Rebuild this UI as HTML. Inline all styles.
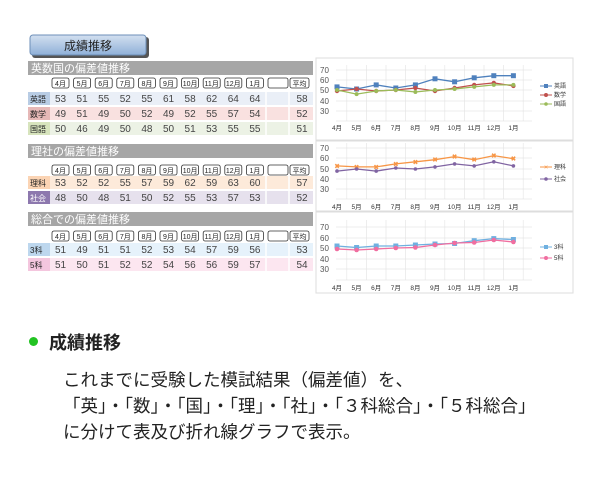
<!DOCTYPE html>
<html><head><meta charset="utf-8"><style>
html,body{margin:0;padding:0;background:#fff;}
body{width:600px;height:500px;position:relative;overflow:hidden;font-family:"Liberation Sans","Noto Sans CJK JP",sans-serif;}
.t{position:absolute;color:#222;white-space:nowrap;}
</style></head><body>
<svg width="600" height="300" style="position:absolute;left:0;top:0" font-family="Liberation Sans, Noto Sans CJK JP, sans-serif">
<defs><linearGradient id="bg" x1="0" y1="0" x2="0" y2="1"><stop offset="0" stop-color="#d3e0f0"/><stop offset="1" stop-color="#8fb0d8"/></linearGradient></defs>
<rect x="32" y="37" width="117" height="21" rx="3" fill="#555"/>
<rect x="30" y="35" width="116" height="20" rx="3" fill="url(#bg)" stroke="#6d8fb8"/>
<text x="88" y="50" font-size="12" text-anchor="middle" fill="#222">成績推移</text>
<rect x="28" y="61" width="285" height="14" fill="#a6a6a6"/><text x="31" y="72" font-size="11" fill="#fff">英数国の偏差値推移</text>
<rect x="28" y="144" width="285" height="14" fill="#a6a6a6"/><text x="31" y="155" font-size="11" fill="#fff">理社の偏差値推移</text>
<rect x="28" y="212" width="285" height="14" fill="#a6a6a6"/><text x="31" y="223" font-size="11" fill="#fff">総合での偏差値推移</text>
<g font-size="7" text-anchor="middle" fill="#222" stroke-width="0.8">
<g id="m1" transform="translate(0,78)">
<g fill="#fff" stroke="#333"><rect x="52" y="0" width="17" height="10" rx="2"/><rect x="73.6" y="0" width="17" height="10" rx="2"/><rect x="95.2" y="0" width="17" height="10" rx="2"/><rect x="116.8" y="0" width="17" height="10" rx="2"/><rect x="138.4" y="0" width="17" height="10" rx="2"/><rect x="160" y="0" width="17" height="10" rx="2"/><rect x="181.6" y="0" width="17" height="10" rx="2"/><rect x="203.2" y="0" width="17" height="10" rx="2"/><rect x="224.8" y="0" width="17" height="10" rx="2"/><rect x="246.4" y="0" width="17" height="10" rx="2"/><rect x="268" y="0" width="20" height="10" rx="2"/><rect x="290" y="0" width="19" height="10" rx="2"/></g>
<text x="60.5" y="8">4月</text><text x="82.1" y="8">5月</text><text x="103.7" y="8">6月</text><text x="125.3" y="8">7月</text><text x="146.9" y="8">8月</text><text x="168.5" y="8">9月</text><text x="190.1" y="8">10月</text><text x="211.7" y="8">11月</text><text x="233.3" y="8">12月</text><text x="254.9" y="8">1月</text><text x="299.5" y="8">平均</text>
</g>
<use href="#m1" transform="translate(0,87)"/>
<use href="#m1" transform="translate(0,153)"/>
</g>
<g>
<rect x="28" y="92" width="285" height="13" fill="#eaeff7"/><rect x="28" y="92" width="22" height="13" fill="#b8cce4"/>
<rect x="28" y="107" width="285" height="13" fill="#f9e1e0"/><rect x="28" y="107" width="22" height="13" fill="#e6b8b7"/>
<rect x="28" y="122" width="285" height="13" fill="#ecf2e5"/><rect x="28" y="122" width="22" height="13" fill="#d7e4bd"/>
<rect x="28" y="176" width="285" height="13" fill="#fdeada"/><rect x="28" y="176" width="22" height="13" fill="#fbd4b4"/>
<rect x="28" y="191" width="285" height="13" fill="#e6e1ed"/><rect x="28" y="191" width="22" height="13" fill="#8d78ae"/>
<rect x="28" y="243" width="285" height="13" fill="#e6f2fb"/><rect x="28" y="243" width="22" height="13" fill="#bdd7ee"/>
<rect x="28" y="258" width="285" height="13" fill="#fce6f0"/><rect x="28" y="258" width="22" height="13" fill="#f4c6de"/>
<g stroke="#fff" stroke-width="1.5"><line x1="266" y1="91" x2="266" y2="136"/><line x1="289" y1="91" x2="289" y2="136"/><line x1="266" y1="175" x2="266" y2="205"/><line x1="289" y1="175" x2="289" y2="205"/><line x1="266" y1="242" x2="266" y2="272"/><line x1="289" y1="242" x2="289" y2="272"/></g>
</g>
<g font-size="8" fill="#222"><text x="30" y="102">英語</text><text x="30" y="117">数学</text><text x="30" y="132">国語</text><text x="30" y="186">理科</text><text x="30" y="201" fill="#fff">社会</text><text x="30" y="253">3科</text><text x="30" y="268">5科</text></g>
<g font-size="10" fill="#444" text-anchor="middle">
<g transform="translate(0,102)"><text x="60.5">53</text><text x="82.1">51</text><text x="103.7">55</text><text x="125.3">52</text><text x="146.9">55</text><text x="168.5">61</text><text x="190.1">58</text><text x="211.7">62</text><text x="233.3">64</text><text x="254.9">64</text><text x="302">58</text></g>
<g transform="translate(0,117)"><text x="60.5">49</text><text x="82.1">51</text><text x="103.7">49</text><text x="125.3">50</text><text x="146.9">52</text><text x="168.5">49</text><text x="190.1">52</text><text x="211.7">55</text><text x="233.3">57</text><text x="254.9">54</text><text x="302">52</text></g>
<g transform="translate(0,132)"><text x="60.5">50</text><text x="82.1">46</text><text x="103.7">49</text><text x="125.3">50</text><text x="146.9">48</text><text x="168.5">50</text><text x="190.1">51</text><text x="211.7">53</text><text x="233.3">55</text><text x="254.9">55</text><text x="302">51</text></g>
<g transform="translate(0,186)"><text x="60.5">53</text><text x="82.1">52</text><text x="103.7">52</text><text x="125.3">55</text><text x="146.9">57</text><text x="168.5">59</text><text x="190.1">62</text><text x="211.7">59</text><text x="233.3">63</text><text x="254.9">60</text><text x="302">57</text></g>
<g transform="translate(0,201)"><text x="60.5">48</text><text x="82.1">50</text><text x="103.7">48</text><text x="125.3">51</text><text x="146.9">50</text><text x="168.5">52</text><text x="190.1">55</text><text x="211.7">53</text><text x="233.3">57</text><text x="254.9">53</text><text x="302">52</text></g>
<g transform="translate(0,253)"><text x="60.5">51</text><text x="82.1">49</text><text x="103.7">51</text><text x="125.3">51</text><text x="146.9">52</text><text x="168.5">53</text><text x="190.1">54</text><text x="211.7">57</text><text x="233.3">59</text><text x="254.9">56</text><text x="302">53</text></g>
<g transform="translate(0,268)"><text x="60.5">51</text><text x="82.1">50</text><text x="103.7">51</text><text x="125.3">52</text><text x="146.9">52</text><text x="168.5">54</text><text x="190.1">56</text><text x="211.7">56</text><text x="233.3">59</text><text x="254.9">57</text><text x="302">54</text></g>
</g>
<g id="ch1">
<rect x="316" y="58" width="257" height="82" fill="#fff" stroke="#ddd"/>
<g stroke="#e6e6e6" stroke-width="0.7">
<line x1="336" y1="70" x2="532" y2="70"/><line x1="336" y1="80" x2="532" y2="80"/><line x1="336" y1="90" x2="532" y2="90"/><line x1="336" y1="101" x2="532" y2="101"/><line x1="336" y1="111" x2="532" y2="111"/><line x1="336" y1="121" x2="532" y2="121"/>
<line x1="346.8" y1="65" x2="346.8" y2="121"/><line x1="366.4" y1="65" x2="366.4" y2="121"/><line x1="386" y1="65" x2="386" y2="121"/><line x1="405.6" y1="65" x2="405.6" y2="121"/><line x1="425.2" y1="65" x2="425.2" y2="121"/><line x1="444.8" y1="65" x2="444.8" y2="121"/><line x1="464.4" y1="65" x2="464.4" y2="121"/><line x1="484" y1="65" x2="484" y2="121"/><line x1="503.6" y1="65" x2="503.6" y2="121"/><line x1="523.2" y1="65" x2="523.2" y2="121"/>
</g>
<g font-size="8" fill="#555"><text x="320" y="73">70</text><text x="320" y="83">60</text><text x="320" y="93">50</text><text x="320" y="104">40</text><text x="320" y="114">30</text></g>
<g font-size="6.5" fill="#333" text-anchor="middle"><text x="337" y="130">4月</text><text x="356.6" y="130">5月</text><text x="376.2" y="130">6月</text><text x="395.8" y="130">7月</text><text x="415.4" y="130">8月</text><text x="435" y="130">9月</text><text x="454.6" y="130">10月</text><text x="474.2" y="130">11月</text><text x="493.8" y="130">12月</text><text x="513.4" y="130">1月</text></g>
<polyline fill="none" stroke="#4f81bd" stroke-width="1.3" points="337,86.9 356.6,89 376.2,84.9 395.8,88 415.4,84.9 435,78.8 454.6,81.8 474.2,77.8 493.8,75.7 513.4,75.7"/>
<g fill="#4f81bd"><rect x="334.5" y="84.4" width="5" height="5"/><rect x="354.1" y="86.5" width="5" height="5"/><rect x="373.7" y="82.4" width="5" height="5"/><rect x="393.3" y="85.5" width="5" height="5"/><rect x="412.9" y="82.4" width="5" height="5"/><rect x="432.5" y="76.3" width="5" height="5"/><rect x="452.1" y="79.3" width="5" height="5"/><rect x="471.7" y="75.3" width="5" height="5"/><rect x="491.3" y="73.2" width="5" height="5"/><rect x="510.9" y="73.2" width="5" height="5"/></g>
<polyline fill="none" stroke="#c0504d" stroke-width="1.3" points="337,91 356.6,89 376.2,91 395.8,90 415.4,88 435,91 454.6,88 474.2,84.9 493.8,82.9 513.4,85.9"/>
<g fill="#c0504d"><circle cx="337" cy="91" r="2.2"/><circle cx="356.6" cy="89" r="2.2"/><circle cx="376.2" cy="91" r="2.2"/><circle cx="395.8" cy="90" r="2.2"/><circle cx="415.4" cy="88" r="2.2"/><circle cx="435" cy="91" r="2.2"/><circle cx="454.6" cy="88" r="2.2"/><circle cx="474.2" cy="84.9" r="2.2"/><circle cx="493.8" cy="82.9" r="2.2"/><circle cx="513.4" cy="85.9" r="2.2"/></g>
<polyline fill="none" stroke="#9bbb59" stroke-width="1.3" points="337,90 356.6,94.1 376.2,91 395.8,90 415.4,92 435,90 454.6,89 474.2,86.9 493.8,84.9 513.4,84.9"/>
<g fill="#9bbb59"><circle cx="337" cy="90" r="2"/><circle cx="356.6" cy="94.1" r="2"/><circle cx="376.2" cy="91" r="2"/><circle cx="395.8" cy="90" r="2"/><circle cx="415.4" cy="92" r="2"/><circle cx="435" cy="90" r="2"/><circle cx="454.6" cy="89" r="2"/><circle cx="474.2" cy="86.9" r="2"/><circle cx="493.8" cy="84.9" r="2"/><circle cx="513.4" cy="84.9" r="2"/></g>
<g font-size="6" fill="#333"><line x1="540" y1="86" x2="552" y2="86" stroke="#4f81bd"/><rect x="544" y="84" width="4" height="4" fill="#4f81bd"/><text x="554" y="88">英語</text>
<line x1="540" y1="95" x2="552" y2="95" stroke="#c0504d"/><circle cx="546" cy="95" r="2" fill="#c0504d"/><text x="554" y="97">数学</text>
<line x1="540" y1="104" x2="552" y2="104" stroke="#9bbb59"/><circle cx="546" cy="104" r="1.8" fill="#9bbb59"/><text x="554" y="106">国語</text></g>
</g>
<g id="ch2">
<rect x="316" y="141" width="257" height="70" fill="#fff" stroke="#ddd"/>
<g stroke="#e6e6e6" stroke-width="0.7">
<line x1="336" y1="148" x2="532" y2="148"/><line x1="336" y1="158" x2="532" y2="158"/><line x1="336" y1="169" x2="532" y2="169"/><line x1="336" y1="179" x2="532" y2="179"/><line x1="336" y1="189" x2="532" y2="189"/><line x1="336" y1="199" x2="532" y2="199"/>
<line x1="346.8" y1="143" x2="346.8" y2="199"/><line x1="366.4" y1="143" x2="366.4" y2="199"/><line x1="386" y1="143" x2="386" y2="199"/><line x1="405.6" y1="143" x2="405.6" y2="199"/><line x1="425.2" y1="143" x2="425.2" y2="199"/><line x1="444.8" y1="143" x2="444.8" y2="199"/><line x1="464.4" y1="143" x2="464.4" y2="199"/><line x1="484" y1="143" x2="484" y2="199"/><line x1="503.6" y1="143" x2="503.6" y2="199"/><line x1="523.2" y1="143" x2="523.2" y2="199"/>
</g>
<g font-size="8" fill="#555"><text x="320" y="151">70</text><text x="320" y="161">60</text><text x="320" y="172">50</text><text x="320" y="182">40</text><text x="320" y="192">30</text></g>
<g font-size="6.5" fill="#333" text-anchor="middle"><text x="337" y="209">4月</text><text x="356.6" y="209">5月</text><text x="376.2" y="209">6月</text><text x="395.8" y="209">7月</text><text x="415.4" y="209">8月</text><text x="435" y="209">9月</text><text x="454.6" y="209">10月</text><text x="474.2" y="209">11月</text><text x="493.8" y="209">12月</text><text x="513.4" y="209">1月</text></g>
<polyline fill="none" stroke="#f79646" stroke-width="1.3" points="337,165.9 356.6,166.9 376.2,166.9 395.8,163.9 415.4,161.8 435,159.7 454.6,156.6 474.2,159.7 493.8,155.6 513.4,158.7"/>
<g stroke="#f79646" stroke-width="1" font-size="7" fill="#f79646" text-anchor="middle"><text x="337" y="168.4">×</text><text x="356.6" y="169.4">×</text><text x="376.2" y="169.4">×</text><text x="395.8" y="166.4">×</text><text x="415.4" y="164.3">×</text><text x="435" y="162.2">×</text><text x="454.6" y="159.1">×</text><text x="474.2" y="162.2">×</text><text x="493.8" y="158.1">×</text><text x="513.4" y="161.2">×</text></g>
<polyline fill="none" stroke="#8064a2" stroke-width="1.3" points="337,171.1 356.6,169 376.2,171.1 395.8,168 415.4,169 435,166.9 454.6,163.9 474.2,165.9 493.8,161.8 513.4,165.9"/>
<g fill="#8064a2"><circle cx="337" cy="171.1" r="1.8"/><circle cx="356.6" cy="169" r="1.8"/><circle cx="376.2" cy="171.1" r="1.8"/><circle cx="395.8" cy="168" r="1.8"/><circle cx="415.4" cy="169" r="1.8"/><circle cx="435" cy="166.9" r="1.8"/><circle cx="454.6" cy="163.9" r="1.8"/><circle cx="474.2" cy="165.9" r="1.8"/><circle cx="493.8" cy="161.8" r="1.8"/><circle cx="513.4" cy="165.9" r="1.8"/></g>
<g font-size="6" fill="#333"><line x1="540" y1="167" x2="552" y2="167" stroke="#f79646"/><text x="546" y="169.5" font-size="7" fill="#f79646" text-anchor="middle">×</text><text x="554" y="169">理科</text>
<line x1="540" y1="179" x2="552" y2="179" stroke="#8064a2"/><circle cx="546" cy="179" r="1.8" fill="#8064a2"/><text x="554" y="181">社会</text></g>
</g>
<g id="ch3">
<rect x="316" y="212" width="257" height="81" fill="#fff" stroke="#ddd"/>
<g stroke="#e6e6e6" stroke-width="0.7">
<line x1="336" y1="227" x2="532" y2="227"/><line x1="336" y1="238" x2="532" y2="238"/><line x1="336" y1="248" x2="532" y2="248"/><line x1="336" y1="259" x2="532" y2="259"/><line x1="336" y1="269" x2="532" y2="269"/><line x1="336" y1="280" x2="532" y2="280"/>
<line x1="346.8" y1="220" x2="346.8" y2="280"/><line x1="366.4" y1="220" x2="366.4" y2="280"/><line x1="386" y1="220" x2="386" y2="280"/><line x1="405.6" y1="220" x2="405.6" y2="280"/><line x1="425.2" y1="220" x2="425.2" y2="280"/><line x1="444.8" y1="220" x2="444.8" y2="280"/><line x1="464.4" y1="220" x2="464.4" y2="280"/><line x1="484" y1="220" x2="484" y2="280"/><line x1="503.6" y1="220" x2="503.6" y2="280"/><line x1="523.2" y1="220" x2="523.2" y2="280"/>
</g>
<g font-size="8" fill="#555"><text x="320" y="230">70</text><text x="320" y="241">60</text><text x="320" y="251">50</text><text x="320" y="262">40</text><text x="320" y="272">30</text></g>
<g font-size="6.5" fill="#333" text-anchor="middle"><text x="337" y="290">4月</text><text x="356.6" y="290">5月</text><text x="376.2" y="290">6月</text><text x="395.8" y="290">7月</text><text x="415.4" y="290">8月</text><text x="435" y="290">9月</text><text x="454.6" y="290">10月</text><text x="474.2" y="290">11月</text><text x="493.8" y="290">12月</text><text x="513.4" y="290">1月</text></g>
<polyline fill="none" stroke="#6fb0e0" stroke-width="1.3" points="337,246 356.6,247.5 376.2,246 395.8,246 415.4,245 435,244 454.6,243.5 474.2,240.7 493.8,238.6 513.4,239.5"/>
<g fill="#6fb0e0"><rect x="334.5" y="243.5" width="5" height="5"/><rect x="354.1" y="245" width="5" height="5"/><rect x="373.7" y="243.5" width="5" height="5"/><rect x="393.3" y="243.5" width="5" height="5"/><rect x="412.9" y="242.5" width="5" height="5"/><rect x="432.5" y="241.5" width="5" height="5"/><rect x="452.1" y="241" width="5" height="5"/><rect x="471.7" y="238.2" width="5" height="5"/><rect x="491.3" y="236.1" width="5" height="5"/><rect x="510.9" y="237" width="5" height="5"/></g>
<polyline fill="none" stroke="#f06ea0" stroke-width="1.3" points="337,249 356.6,250 376.2,249 395.8,248 415.4,247.5 435,245 454.6,243 474.2,242.5 493.8,240 513.4,242"/>
<g fill="#f06ea0"><circle cx="337" cy="249" r="2.3"/><circle cx="356.6" cy="250" r="2.3"/><circle cx="376.2" cy="249" r="2.3"/><circle cx="395.8" cy="248" r="2.3"/><circle cx="415.4" cy="247.5" r="2.3"/><circle cx="435" cy="245" r="2.3"/><circle cx="454.6" cy="243" r="2.3"/><circle cx="474.2" cy="242.5" r="2.3"/><circle cx="493.8" cy="240" r="2.3"/><circle cx="513.4" cy="242" r="2.3"/></g>
<g font-size="6" fill="#333"><line x1="540" y1="247" x2="552" y2="247" stroke="#6fb0e0"/><rect x="544" y="245" width="4" height="4" fill="#6fb0e0"/><text x="554" y="249">3科</text>
<line x1="540" y1="258" x2="552" y2="258" stroke="#f06ea0"/><circle cx="546" cy="258" r="2" fill="#f06ea0"/><text x="554" y="260">5科</text></g>
</g>
</svg>
<div style="position:absolute;left:29px;top:337px;width:9px;height:9px;border-radius:50%;background:#22c322"></div>
<div class="t" style="left:49px;top:329px;font-size:18px;font-weight:bold;">成績推移</div>
<div class="t" style="left:63px;top:367px;font-size:17.5px;line-height:26px;">これまでに受験した模試結果（偏差値）を、<br>「英」・「数」・「国」・「理」・「社」・「３科総合」・「５科総合」<br>に分けて表及び折れ線グラフで表示。</div>
</body></html>
